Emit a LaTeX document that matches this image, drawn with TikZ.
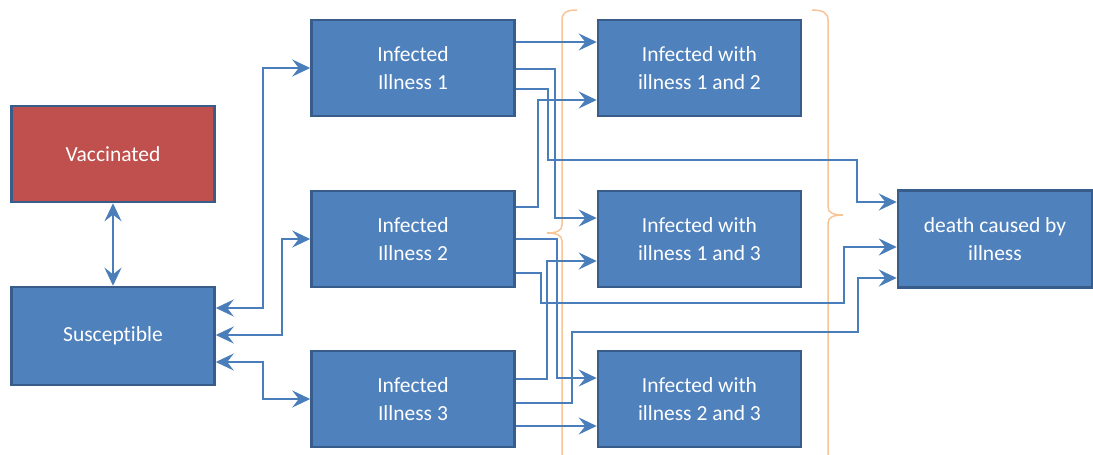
\documentclass[tikz,border=0pt]{standalone}
\usepackage{fontspec}
\setmainfont{Carlito}[RawFeature=-liga]
\usetikzlibrary{arrows.meta}
\definecolor{boxfill}{HTML}{4F81BD}
\definecolor{boxline}{HTML}{385D8A}
\definecolor{redfill}{HTML}{C0504D}
\definecolor{conncol}{HTML}{4A7EBB}
\definecolor{bracecol}{HTML}{F8C596}
\tikzset{
  bigtip/.tip={Stealth[length=18pt,width=17pt,inset=6.5pt]},
  box/.style={draw=boxline, line width=2.5pt, fill=boxfill, text=white,
    minimum width=203pt, minimum height=96pt, inner sep=0pt, align=center,
    font=\fontsize{21.5}{28}\selectfont},
  redbox/.style={box, fill=redfill},
  conn/.style={draw=conncol, line width=2pt, arrows={-bigtip}},
  dconn/.style={draw=conncol, line width=2pt, arrows={bigtip-bigtip}},
  bracestyle/.style={draw=bracecol, line width=1.5pt}
}
\begin{document}
\begin{tikzpicture}[x=1pt,y=-1pt]
\useasboundingbox (0,0) rectangle (1093,455);
% braces
\draw[bracestyle] (577,10) .. controls (566,10) and (562,13) .. (562,20) -- (562,225)
  .. controls (562,231) and (556,233) .. (547,233)
  .. controls (556,233) and (562,235) .. (562,241) -- (562,460);
\draw[bracestyle] (812,10) .. controls (823,10) and (828,13) .. (828,20) -- (828,207)
  .. controls (828,213) and (834,215) .. (843,215)
  .. controls (834,215) and (828,217) .. (828,223) -- (828,460);
% nodes
\node[redbox] (V) at (113,154) {Vaccinated};
\node[box, minimum height=98pt] (S) at (113,336) {Susceptible};
\node[box] (I1) at (413,68) {Infected\\Illness 1};
\node[box] (I2) at (413,239) {Infected\\Illness 2};
\node[box] (I3) at (413,399) {Infected\\Illness 3};
\node[box] (C12) at (699.5,68) {Infected with\\illness 1 and 2};
\node[box] (C13) at (699.5,239) {Infected with\\illness 1 and 3};
\node[box] (C23) at (699.5,399) {Infected with\\illness 2 and 3};
\node[box, minimum width=194pt, minimum height=97pt] (D) at (995,239) {death caused by\\illness};
% vaccinated - susceptible
\draw[dconn] (V.south) -- (S.north);
% susceptible - infected
\draw[dconn] ([yshift=28pt]S.east) -- (263,308) |- (I1.west);
\draw[dconn] ([yshift=1pt]S.east) -- (282,335) |- (I2.west);
\draw[dconn] ([yshift=-26pt]S.east) -- (263,362) |- (I3.west);
% illness 1
\draw[conn] ([yshift=26pt]I1.east) -- ([yshift=26pt]C12.west);
\draw[conn] ([yshift=-1pt]I1.east) -- (555,69) |- ([yshift=21pt]C13.west);
\draw[conn] ([yshift=-21pt]I1.east) -- (548,89) -- (548,160) -- (857,160) |- ([yshift=37pt]D.west);
% illness 2
\draw[conn] ([yshift=32pt]I2.east) -- (538,207) |- ([yshift=-32pt]C12.west);
\draw[conn] (I2.east) -- (557,239) |- ([yshift=21pt]C23.west);
\draw[conn] ([yshift=-34pt]I2.east) -- (541,273) -- (541,303) -- (844,303) |- ([yshift=-8pt]D.west);
% illness 3
\draw[conn] ([yshift=20pt]I3.east) -- (547,379) |- ([yshift=-22pt]C13.west);
\draw[conn] ([yshift=-4pt]I3.east) -- (572,403) -- (572,332) -- (858,332) |- ([yshift=-39pt]D.west);
\draw[conn] ([yshift=-27pt]I3.east) -- ([yshift=-27pt]C23.west);
\end{tikzpicture}
\end{document}
